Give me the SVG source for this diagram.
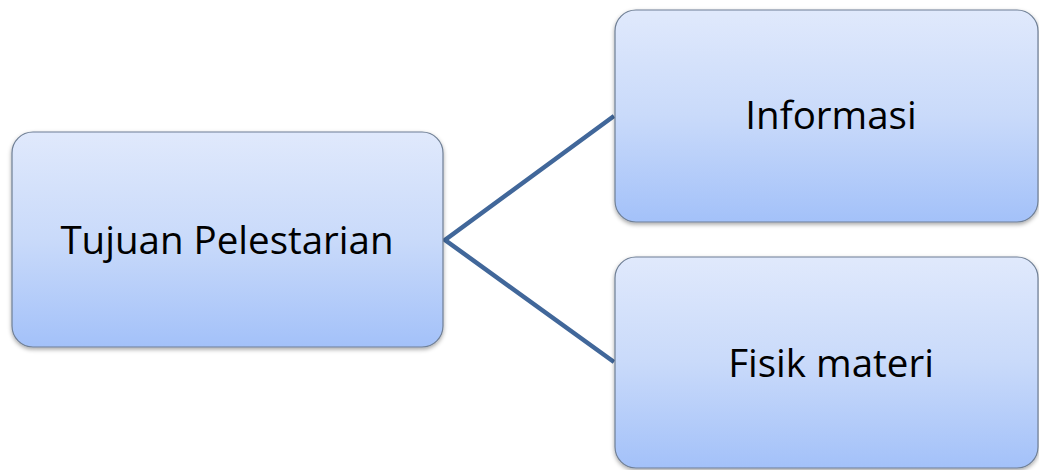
<svg xmlns="http://www.w3.org/2000/svg" width="1039" height="470" viewBox="0 0 1039 470">
<style>
.box{fill:url(#g);stroke:#6f7f95;stroke-width:1.2;filter:url(#sh)}
.lbl{font-family:"Open Sans","Noto Sans",sans-serif;font-size:38.5px;fill:#000;text-anchor:middle}
.con{stroke:#41679a;stroke-width:4.5;fill:none;stroke-linecap:butt;stroke-linejoin:miter}
</style>
<defs>
<linearGradient id="g" x1="0" y1="0" x2="0" y2="1">
<stop offset="0" stop-color="#e0e9fc"/>
<stop offset="0.5" stop-color="#c9dafa"/>
<stop offset="1" stop-color="#a3c1f9"/>
</linearGradient>
<filter id="sh" x="-5%" y="-5%" width="110%" height="115%">
<feDropShadow dx="0" dy="2" stdDeviation="2" flood-color="#000" flood-opacity="0.35"/>
</filter>
</defs>
<rect width="1039" height="470" fill="#fff"/>
<g id="connectors">
<polyline class="con" points="614,116 445,240 614,362"/>
</g>
<g id="node-tujuan">
<rect class="box" x="12" y="132" width="431" height="215" rx="21"/>
<text class="lbl" x="227" y="254">Tujuan Pelestarian</text>
</g>
<g id="node-informasi">
<rect class="box" x="615" y="10" width="423" height="212" rx="21"/>
<text class="lbl" x="831" y="129">Informasi</text>
</g>
<g id="node-fisik">
<rect class="box" x="615" y="257" width="423" height="211" rx="21"/>
<text class="lbl" x="831" y="377">Fisik materi</text>
</g>
</svg>
